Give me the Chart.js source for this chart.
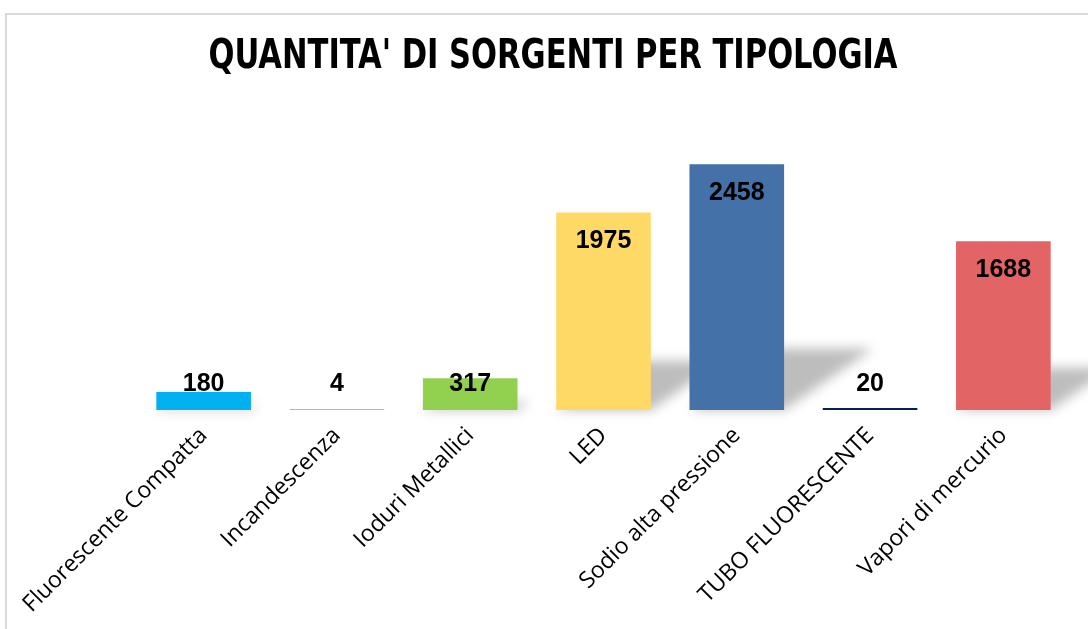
<!DOCTYPE html>
<html>
<head>
<meta charset="utf-8">
<script src="https://cdn.jsdelivr.net/npm/chart.js@4"></script>
<style>
  html, body { margin: 0; padding: 0; background: #fff; overflow: hidden; }
  #wrap { position: relative; width: 1088px; height: 629px; }
  #frame { position: absolute; left: 5px; top: 13px; width: 1200px; height: 700px; border: 2px solid #d9d9d9; box-sizing: border-box; }
  #chart { position: absolute; left: 0; top: 0; }
</style>
</head>
<body>
<div id="wrap">
  <div id="frame"></div>
  <canvas id="chart" width="1088" height="629"></canvas>
</div>
<script>
const chartTitle = "QUANTITA' DI SORGENTI PER TIPOLOGIA";
const categories = ['Fluorescente Compatta', 'Incandescenza', 'Ioduri Metallici', 'LED', 'Sodio alta pressione', 'TUBO FLUORESCENTE', 'Vapori di mercurio'];
const quantities = [180, 4, 317, 1975, 2458, 20, 1688];
const barColors = ['#00b0f0', '#f0b429', '#92d050', '#ffd966', '#4471a7', '#002060', '#e36464'];

// soft perspective shadow behind each bar
const barShadow = {
  id: 'barShadow',
  beforeDatasetsDraw(chart) {
    const ctx = chart.ctx;
    const bars = chart.getDatasetMeta(0).data;
    ctx.save();
    ctx.filter = 'blur(6px)';
    ctx.fillStyle = 'rgba(0,0,0,0.26)';
    bars.forEach(bar => {
      const h = bar.base - bar.y;
      if (h < 3) return;
      const sh = h * 0.25;
      const skew = sh * 1.45;
      const left = bar.x - bar.width / 2;
      const right = bar.x + bar.width / 2;
      ctx.beginPath();
      ctx.moveTo(left, bar.base);
      ctx.lineTo(right, bar.base);
      ctx.lineTo(right + skew, bar.base - sh);
      ctx.lineTo(left + skew, bar.base - sh);
      ctx.closePath();
      ctx.fill();
    });
    ctx.restore();
  }
};

// value labels: inside the top of tall bars, above short ones
const valueLabels = {
  id: 'valueLabels',
  afterDatasetsDraw(chart) {
    const ctx = chart.ctx;
    const bars = chart.getDatasetMeta(0).data;
    ctx.save();
    ctx.font = 'bold 25px "Liberation Sans", Arial, sans-serif';
    ctx.fillStyle = '#000';
    ctx.textAlign = 'center';
    ctx.textBaseline = 'middle';
    bars.forEach((bar, i) => {
      const y = Math.min(bar.y + 29, bar.base - 26);
      ctx.fillText(String(quantities[i]), bar.x, y);
    });
    ctx.restore();
  }
};

// condensed bold title, squeezed to the reference width
const condensedTitle = {
  id: 'condensedTitle',
  afterDraw(chart) {
    const ctx = chart.ctx;
    ctx.save();
    ctx.font = 'bold 41px "DejaVu Sans Condensed", "DejaVu Sans", sans-serif';
    ctx.fillStyle = '#000';
    ctx.textAlign = 'center';
    ctx.textBaseline = 'middle';
    const w = ctx.measureText(chartTitle).width;
    const sx = Math.min(1, 689 / w);
    ctx.translate(553, 57);
    ctx.scale(sx, 1);
    ctx.fillText(chartTitle, 0, 0);
    ctx.restore();
  }
};

new Chart(document.getElementById('chart'), {
  type: 'bar',
  data: {
    labels: categories,
    datasets: [{
      data: quantities,
      backgroundColor: barColors,
      borderWidth: 0,
      categoryPercentage: 1,
      barPercentage: 0.71,
      minBarLength: 1
    }]
  },
  options: {
    responsive: false,
    animation: false,
    layout: { padding: { left: 36, right: 18, top: 110, bottom: 0 } },
    plugins: {
      legend: { display: false },
      tooltip: { enabled: false },
      title: { display: false }
    },
    scales: {
      x: {
        grid: { display: false },
        border: { display: false },
        ticks: {
          autoSkip: false,
          maxRotation: 45,
          minRotation: 45,
          color: '#000',
          padding: 4,
          font: { family: '"Open Sans", sans-serif', size: 23 }
        },
        afterFit(scale) { scale.height = 219; }
      },
      y: {
        min: 0,
        max: 3000,
        grid: { display: false },
        border: { display: false },
        ticks: { display: false },
        afterFit(scale) { scale.width = 101; }
      }
    }
  },
  plugins: [barShadow, valueLabels, condensedTitle]
});
</script>
</body>
</html>
